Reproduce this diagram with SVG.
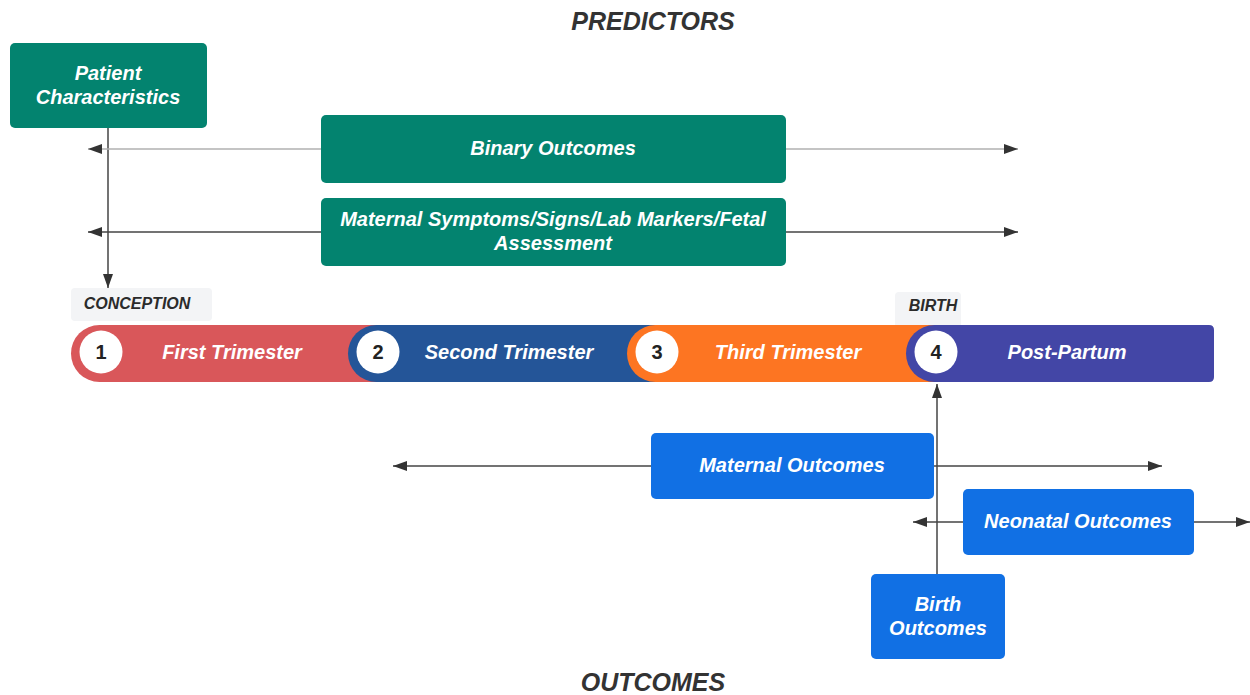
<svg xmlns="http://www.w3.org/2000/svg" width="1250" height="695" viewBox="0 0 1250 695">
  <style>
    .title { font-family: "Liberation Sans", Arial, sans-serif; font-weight: bold; font-style: italic; font-size: 25px; fill: #333333; text-anchor: middle; }
    .lbl { font-family: "Liberation Sans", Arial, sans-serif; font-weight: bold; font-style: italic; font-size: 20px; fill: #ffffff; text-anchor: middle; dominant-baseline: central; }
    .num { font-family: "Liberation Sans", Arial, sans-serif; font-weight: bold; font-size: 20px; fill: #222222; text-anchor: middle; dominant-baseline: central; }
    .tag { font-family: "Liberation Sans", Arial, sans-serif; font-weight: bold; font-style: italic; font-size: 16px; fill: #2b2b2b; text-anchor: middle; dominant-baseline: central; }
    .teal { fill: #03836f; }
    .blue { fill: #1170e4; }
    .tagbox { fill: #f3f4f6; }
    .conn { stroke: #444444; stroke-width: 1.5; fill: none; }
    .conn.light { stroke: #b0b0b0; }
    .dot { fill: #ffffff; }
  </style>
  <defs>
    <marker id="arrow" markerUnits="userSpaceOnUse" markerWidth="14" markerHeight="10" refX="14" refY="5" orient="auto-start-reverse">
      <path d="M0,0 L14,5 L0,10 z" fill="#333333"/>
    </marker>
  </defs>

  <rect width="1250" height="695" fill="#ffffff"/>

  <text class="title" x="653" y="30">PREDICTORS</text>
  <text class="title" x="653" y="691">OUTCOMES</text>

  <!-- milestone tags sit behind the timeline bar -->
  <g id="conception">
    <rect class="tagbox" x="71" y="288" width="141" height="33" rx="4"/>
    <text class="tag" x="137" y="303">CONCEPTION</text>
  </g>
  <g id="birth">
    <rect class="tagbox" x="895" y="292" width="66" height="36" rx="4"/>
    <text class="tag" x="933" y="305">BIRTH</text>
  </g>

  <!-- timeline: each phase overlaps the tail of the previous one -->
  <g id="first-trimester">
    <path d="M99.5,325 H380 V382 H99.5 A28.5,28.5 0 0 1 99.5,325 Z" fill="#d9575a"/>
    <circle class="dot" cx="101" cy="352" r="21.5"/>
    <text class="num" x="101" y="352">1</text>
    <text class="lbl" x="232" y="352">First Trimester</text>
  </g>
  <g id="second-trimester">
    <path d="M376.5,325 H660 V382 H376.5 A28.5,28.5 0 0 1 376.5,325 Z" fill="#245598"/>
    <circle class="dot" cx="378" cy="352" r="21.5"/>
    <text class="num" x="378" y="352">2</text>
    <text class="lbl" x="509" y="352">Second Trimester</text>
  </g>
  <g id="third-trimester">
    <path d="M655.5,325 H940 V382 H655.5 A28.5,28.5 0 0 1 655.5,325 Z" fill="#fd7522"/>
    <circle class="dot" cx="657" cy="352" r="21.5"/>
    <text class="num" x="657" y="352">3</text>
    <text class="lbl" x="788" y="352">Third Trimester</text>
  </g>
  <g id="post-partum">
    <path d="M934.5,325 H1209 Q1214,325 1214,330 V377 Q1214,382 1209,382 H934.5 A28.5,28.5 0 0 1 934.5,325 Z" fill="#4346a6"/>
    <circle class="dot" cx="936" cy="352" r="21.5"/>
    <text class="num" x="936" y="352">4</text>
    <text class="lbl" x="1067" y="352">Post-Partum</text>
  </g>

  <!-- connectors -->
  <g id="connectors">
    <line class="conn" x1="108" y1="128" x2="108" y2="288" marker-end="url(#arrow)"/>
    <line class="conn light" x1="88" y1="149" x2="1018" y2="149" marker-start="url(#arrow)" marker-end="url(#arrow)"/>
    <line class="conn" x1="88" y1="232" x2="1018" y2="232" marker-start="url(#arrow)" marker-end="url(#arrow)"/>
    <line class="conn" x1="393" y1="466" x2="1162" y2="466" marker-start="url(#arrow)" marker-end="url(#arrow)"/>
    <line class="conn" x1="913" y1="522" x2="1250" y2="522" marker-start="url(#arrow)" marker-end="url(#arrow)"/>
    <line class="conn" x1="937" y1="574" x2="937" y2="384" marker-end="url(#arrow)"/>
  </g>

  <!-- predictor boxes -->
  <g id="patient-characteristics">
    <rect class="teal" x="10" y="43" width="197" height="85" rx="5"/>
    <text class="lbl" x="108" y="73">Patient</text>
    <text class="lbl" x="108" y="97">Characteristics</text>
  </g>
  <g id="binary-outcomes">
    <rect class="teal" x="321" y="115" width="465" height="68" rx="5"/>
    <text class="lbl" x="553" y="148">Binary Outcomes</text>
  </g>
  <g id="maternal-symptoms">
    <rect class="teal" x="321" y="198" width="465" height="68" rx="5"/>
    <text class="lbl" x="553" y="219">Maternal Symptoms/Signs/Lab Markers/Fetal</text>
    <text class="lbl" x="553" y="243">Assessment</text>
  </g>

  <!-- outcome boxes -->
  <g id="maternal-outcomes">
    <rect class="blue" x="651" y="433" width="283" height="66" rx="5"/>
    <text class="lbl" x="792" y="465">Maternal Outcomes</text>
  </g>
  <g id="neonatal-outcomes">
    <rect class="blue" x="963" y="489" width="231" height="66" rx="5"/>
    <text class="lbl" x="1078" y="521">Neonatal Outcomes</text>
  </g>
  <g id="birth-outcomes">
    <rect class="blue" x="871" y="574" width="134" height="85" rx="5"/>
    <text class="lbl" x="938" y="604">Birth</text>
    <text class="lbl" x="938" y="628">Outcomes</text>
  </g>
</svg>
